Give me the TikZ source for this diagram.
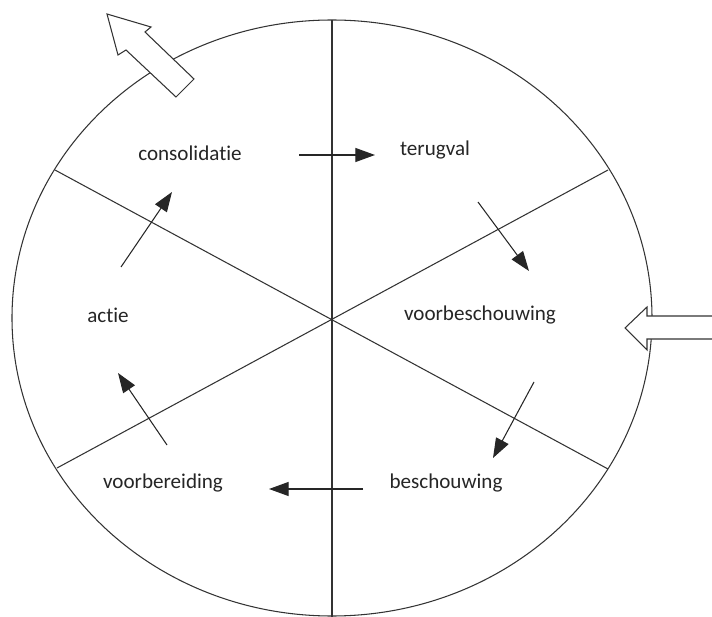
\documentclass[tikz,border=0pt]{standalone}
\usepackage{fontspec}
\setmainfont[Ligatures=NoCommon]{Carlito}
\usetikzlibrary{arrows.meta, positioning, calc}
\tikzset{
    phase/.style={
        font=\fontsize{15}{18}\selectfont,
        text=black!85, inner sep=0pt
    },
    divider/.style={draw=black!80, line width=0.75pt},
    arrow/.style={-{Triangle[length=14pt, width=10pt]}, line width=0.75pt, draw=black!85},
    blockarrow/.style={draw=black!80, fill=white, line width=0.75pt, line join=miter}
}
\begin{document}
\begin{tikzpicture}[x=0.025cm, y=-0.025cm]
    \useasboundingbox (0,0) rectangle (712,617);
    \coordinate (m) at (332,318);

    % cirkel met sectoren
    \draw[divider] (m) ellipse [x radius=320, y radius=298];
    \draw[divider] (332,20) -- (332,620);
    \draw[divider] (55,170) -- (608,469);
    \draw[divider] (57,468) -- (608,170);

    % fasen
    \node[phase] (consolidatie) at (190,153) {consolidatie};
    \node[phase] (terugval) at (435,150) {terugval};
    \node[phase] (actie) at (108,315) {actie};
    \node[phase] (voorbeschouwing) at (480,315) {voorbeschouwing};
    \node[phase] (voorbereiding) at (163,483) {voorbereiding};
    \node[phase] (beschouwing) at (446,483) {beschouwing};

    % pijlen tussen de fasen
    \coordinate (cons-out) at (299,155);
    \coordinate (teru-in) at (375,155);
    \coordinate (teru-out) at (478,202);
    \coordinate (voorb-in) at (529,271);
    \coordinate (voorb-out) at (534,382);
    \coordinate (besch-in) at (493,458);
    \coordinate (besch-out) at (363,489);
    \coordinate (voorber-in) at (269,489);
    \coordinate (voorber-out) at (167,445);
    \coordinate (actie-in) at (118,373);
    \coordinate (actie-out) at (121,267);
    \coordinate (cons-in) at (172,192);

    \draw[arrow] (cons-out) -- (teru-in);
    \draw[arrow] (teru-out) -- (voorb-in);
    \draw[arrow] (voorb-out) -- (besch-in);
    \draw[arrow] (besch-out) -- (voorber-in);
    \draw[arrow] (voorber-out) -- (actie-in);
    \draw[arrow] (actie-out) -- (cons-in);

    % uitgang en ingang
    \draw[blockarrow] (176,97) -- (126,50) -- (118,55) -- (107,14) -- (151,27) -- (145,32) -- (194,79) -- cycle;
    \draw[blockarrow] (720,316) -- (647,316) -- (647,307) -- (625,328) -- (647,350) -- (647,339) -- (720,339);
\end{tikzpicture}
\end{document}
